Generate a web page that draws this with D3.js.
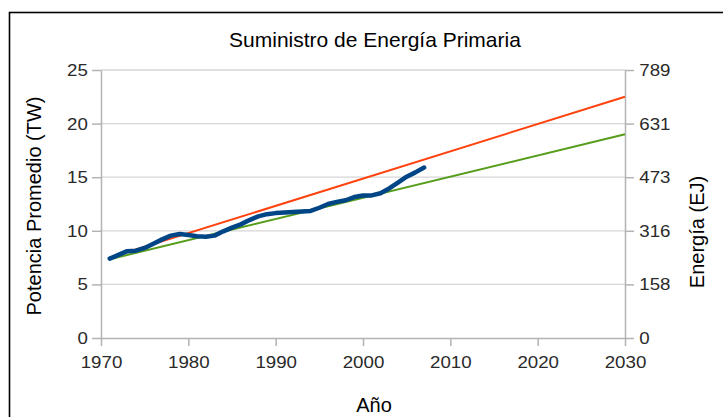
<!DOCTYPE html>
<html>
<head>
<meta charset="utf-8">
<script src="https://cdn.jsdelivr.net/npm/d3@7"></script>
<style>
  html, body { margin: 0; padding: 0; background: #fff; }
  svg { display: block; }
  text { font-family: "Liberation Sans", Arial, sans-serif; }
</style>
</head>
<body>
<svg id="chart" width="723" height="417"></svg>
<script>
// Observed primary energy supply, average power in TW
const years = [1971,1972,1973,1974,1975,1976,1977,1978,1979,1980,1981,1982,1983,1984,1985,1986,1987,1988,1989,1990,1991,1992,1993,1994,1995,1996,1997,1998,1999,2000,2001,2002,2003,2004,2005,2006,2007];
const supplyTW = [7.4,7.75,8.1,8.15,8.4,8.8,9.2,9.55,9.7,9.6,9.5,9.45,9.55,9.95,10.3,10.6,11.0,11.35,11.55,11.65,11.7,11.75,11.8,11.85,12.15,12.5,12.7,12.85,13.15,13.3,13.3,13.5,13.95,14.5,15.05,15.45,15.9];

// Linear projections (start and end points)
const trendYears = [1971, 2030];
const highTrendTW = [7.5, 22.5];
const lowTrendTW = [7.35, 19.0];

// Axis ticks
const xTicks = [1970,1980,1990,2000,2010,2020,2030];
const yTicks = [0,5,10,15,20,25];
const ejTickLabels = ["0","158","316","473","631","789"];

const titleText = "Suministro de Energía Primaria";
const xTitle = "Año";
const yTitle = "Potencia Promedio (TW)";
const y2Title = "Energía (EJ)";

const svg = d3.select("#chart");
const plotLeft = 101, plotRight = 625, plotTop = 70, plotBottom = 338;
const tickScaleX = 1.1;

// outer frame
svg.append("rect")
  .attr("x", 9.5).attr("y", 12.5)
  .attr("width", 800).attr("height", 500)
  .attr("fill", "none").attr("stroke", "#000").attr("stroke-width", 1.6);

const x = d3.scaleLinear().domain([1970, 2030]).range([plotLeft, plotRight]);
const y = d3.scaleLinear().domain([0, 25]).range([plotBottom, plotTop]);

// horizontal gridlines
svg.append("g").selectAll("line").data(yTicks.filter(d => d > 0)).join("line")
  .attr("x1", plotLeft).attr("x2", plotRight)
  .attr("y1", d => y(d)).attr("y2", d => y(d))
  .attr("stroke", "#d6d6d6").attr("stroke-width", 1.3);

function styleAxis(g) {
  g.selectAll(".domain").attr("stroke", "#b3b3b3").attr("stroke-width", 1.5);
  g.selectAll(".tick line").attr("stroke", "#b3b3b3").attr("stroke-width", 1.5);
  g.selectAll(".tick text")
    .attr("fill", "#2a2a2a")
    .style("font-size", "17px")
    .style("font-family", "'Liberation Sans', Arial, sans-serif")
    .attr("transform", `scale(${tickScaleX},1)`);
}

// bottom axis
const gx = svg.append("g").attr("transform", `translate(0,${plotBottom})`)
  .call(d3.axisBottom(x).tickValues(xTicks).tickFormat(d3.format("d")).tickSize(8).tickPadding(10).tickSizeOuter(0));
styleAxis(gx);

// left axis
const gy = svg.append("g").attr("transform", `translate(${plotLeft},0)`)
  .call(d3.axisLeft(y).tickValues(yTicks).tickSize(9).tickPadding(3).tickSizeOuter(0));
styleAxis(gy);

// right axis in EJ
const gy2 = svg.append("g").attr("transform", `translate(${plotRight},0)`)
  .call(d3.axisRight(y).tickValues(yTicks).tickFormat((d, i) => ejTickLabels[i]).tickSize(9).tickPadding(4).tickSizeOuter(0));
styleAxis(gy2);

// trend lines
const trendLine = d3.line().x((d, i) => x(trendYears[i])).y(d => y(d));
svg.append("path").datum(lowTrendTW).attr("d", trendLine)
  .attr("fill", "none").attr("stroke", "#579d1c").attr("stroke-width", 2);
svg.append("path").datum(highTrendTW).attr("d", trendLine)
  .attr("fill", "none").attr("stroke", "#ff420e").attr("stroke-width", 2);

// observed supply
const supplyLine = d3.line().x((d, i) => x(years[i])).y(d => y(d));
svg.append("path").datum(supplyTW).attr("d", supplyLine)
  .attr("fill", "none").attr("stroke", "#004586").attr("stroke-width", 4.5)
  .attr("stroke-linejoin", "round").attr("stroke-linecap", "round");

// titles
svg.append("text").attr("x", 375).attr("y", 47).attr("text-anchor", "middle")
  .style("font-size", "21px").attr("fill", "#000").text(titleText);
svg.append("text").attr("x", 374).attr("y", 412).attr("text-anchor", "middle")
  .style("font-size", "20px").attr("fill", "#000").text(xTitle);
svg.append("text").attr("transform", "translate(41,206) rotate(-90)").attr("text-anchor", "middle")
  .style("font-size", "20px").attr("fill", "#000").text(yTitle);
svg.append("text").attr("transform", "translate(704,232) rotate(-90)").attr("text-anchor", "middle")
  .style("font-size", "20px").attr("fill", "#000").text(y2Title);
</script>
</body>
</html>
